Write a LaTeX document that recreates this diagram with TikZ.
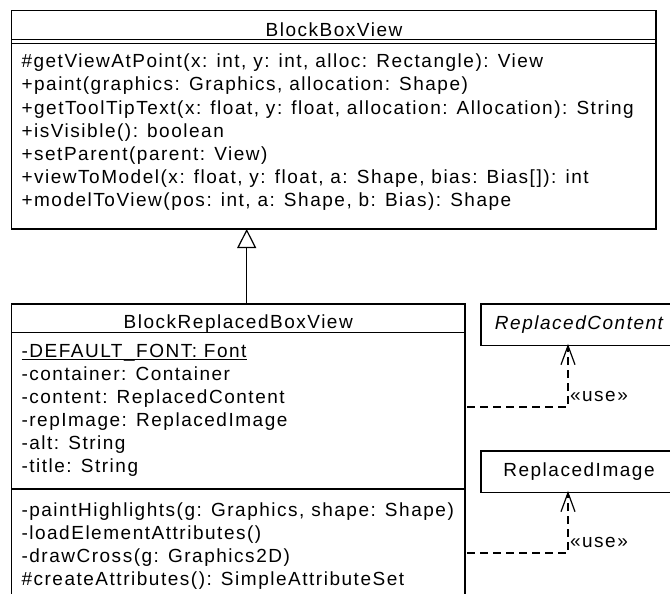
\documentclass[tikz,border=0pt]{standalone}
\usepackage{fontspec}
\setmainfont{Liberation Sans}[LetterSpace=8]
\usetikzlibrary{arrows.meta}
\begin{document}
\begin{tikzpicture}[x=1pt,y=-1pt,
  every node/.style={inner sep=0pt, outer sep=0pt, font=\fontsize{19}{23}\selectfont},
  umlbox/.style={draw, line width=1.2pt, rectangle, anchor=north west},
  txt/.style={anchor=base west},
  ttl/.style={anchor=base},
  sep/.style={line width=1.2pt},
  inherit/.style={line width=1.2pt, -{Triangle[open, length=19pt, width=19pt, line width=1.2pt]}},
  dep/.style={line width=1.2pt, dash pattern=on 8pt off 5pt},
  barb/.style={line width=1.2pt, line join=miter}
]
\useasboundingbox (0,0) rectangle (670,594);
\clip (0,0) rectangle (670,594);

% BlockBoxView
\node[umlbox, minimum width=644.5pt, minimum height=218.5pt] (bbv) at (11.5,10.5) {};
\node[ttl] (bbvt) at (334,37) {BlockBoxView};
\draw[sep] (bbv.west |- 0,39.5) -- (bbv.east |- 0,39.5);
\draw[sep] (bbv.west |- 0,43.5) -- (bbv.east |- 0,43.5);
\node[txt] (m1) at (21.5,68) {\#getViewAtPoint(x: int, y: int, alloc: Rectangle): View};
\node[txt] (m2) at (21.5,91) {+paint(graphics: Graphics, allocation: Shape)};
\node[txt] (m3) at (21.5,114) {+getToolTipText(x: float, y: float, allocation: Allocation): String};
\node[txt] (m4) at (21.5,137) {+isVisible(): boolean};
\node[txt] (m5) at (21.5,160) {+setParent(parent: View)};
\node[txt] (m6) at (21.5,183) {+viewToModel(x: float, y: float, a: Shape, bias: Bias[]): int};
\node[txt] (m7) at (21.5,206) {+modelToView(pos: int, a: Shape, b: Bias): Shape};

% BlockReplacedBoxView
\node[umlbox, minimum width=453.5pt, minimum height=320pt] (brv) at (11.5,304) {};
\node[ttl] (brvt) at (238.25,328) {BlockReplacedBoxView};
\draw[sep] (brv.west |- 0,332.7) -- (brv.east |- 0,332.7);
\node[txt] (a1) at (21.5,357) {-DEFAULT\_FONT: Font};
\draw[line width=1pt] ([yshift=-2.6pt]a1.base west) -- ([yshift=-2.6pt]a1.base east);
\node[txt] (a2) at (21.5,380) {-container: Container};
\node[txt] (a3) at (21.5,403) {-content: ReplacedContent};
\node[txt] (a4) at (21.5,426) {-repImage: ReplacedImage};
\node[txt] (a5) at (21.5,449) {-alt: String};
\node[txt] (a6) at (21.5,472) {-title: String};
\draw[sep] (brv.west |- 0,489) -- (brv.east |- 0,489);
\node[txt] (o1) at (21.5,516) {-paintHighlights(g: Graphics, shape: Shape)};
\node[txt] (o2) at (21.5,539) {-loadElementAttributes()};
\node[txt] (o3) at (21.5,562) {-drawCross(g: Graphics2D)};
\node[txt] (o4) at (21.5,585) {\#createAttributes(): SimpleAttributeSet};

% ReplacedContent / ReplacedImage
\node[umlbox, minimum width=196pt, minimum height=41.7pt, font=\fontsize{19}{23}\selectfont\itshape] (rc) at (481,304) {ReplacedContent};
\node[umlbox, minimum width=196pt, minimum height=41.7pt] (ri) at (481,451) {ReplacedImage};

% inheritance
\coordinate (inh) at (246.7,304);
\draw[inherit] (inh) -- (inh |- bbv.south);

% dependencies
\coordinate (d1) at (568,407);
\coordinate (t1) at (d1 |- rc.south);
\draw[dep] ([xshift=2pt]brv.east |- d1) -- (d1) -- (t1);
\draw[barb] ([xshift=-7pt,yshift=-19pt]t1) -- (t1) -- ([xshift=7pt,yshift=-19pt]t1);
\node[txt] (u1) at (570,401) {«use»};
\coordinate (d2) at (568,553);
\coordinate (t2) at (d2 |- ri.south);
\draw[dep] ([xshift=2pt]brv.east |- d2) -- (d2) -- (t2);
\draw[barb] ([xshift=-7pt,yshift=-19pt]t2) -- (t2) -- ([xshift=7pt,yshift=-19pt]t2);
\node[txt] (u2) at (570,547) {«use»};
\end{tikzpicture}
\end{document}
